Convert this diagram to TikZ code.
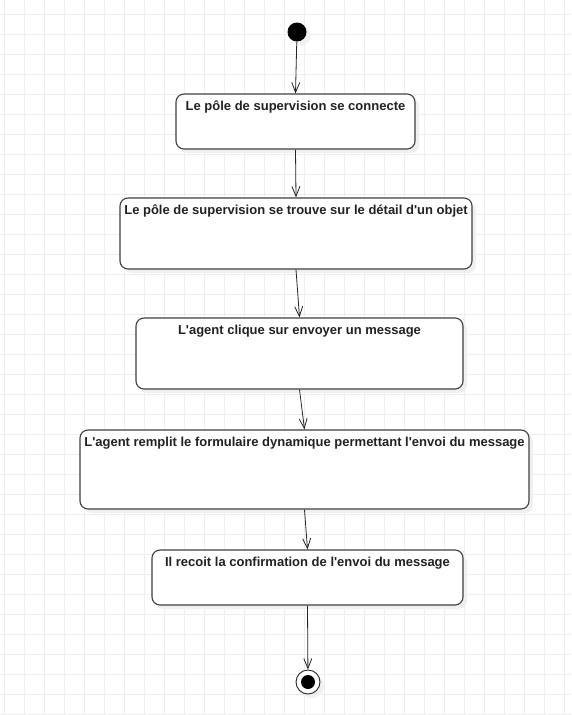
\documentclass[tikz,border=0pt]{standalone}
\usepackage{fontspec}
\setmainfont{Liberation Sans}[Ligatures=TeXOff]
\usetikzlibrary{arrows.meta,shadows}
\definecolor{gridc}{HTML}{EEEEEE}
\definecolor{shadc}{HTML}{F0F0F0}
\definecolor{txtc}{HTML}{222222}
\tikzset{
  actbox/.style={draw=black!75, line width=1.1pt, fill=white, rounded corners=8pt,
    general shadow={fill=shadc, shadow xshift=4pt, shadow yshift=-4pt},
    inner sep=0pt},
  boxtext/.style={font=\bfseries\fontsize{13}{15}\selectfont, text=txtc, anchor=north, inner sep=0pt},
  flow/.style={draw=black!85, line width=0.8pt, -{Straight Barb[length=10pt,width=8pt,line width=0.8pt]}},
}
\begin{document}
\begin{tikzpicture}[x=1pt,y=-1pt]
\useasboundingbox (0,0) rectangle (571,715);
\fill[white] (0,0) rectangle (571,715);
\foreach \gx in {4,24,...,564} \draw[gridc, line width=1pt] (\gx,0) -- (\gx,715);
\foreach \gy in {14,34,...,714} \draw[gridc, line width=1pt] (0,\gy) -- (571,\gy);

\node[circle, fill=black, minimum size=19pt, inner sep=0pt,
  general shadow={fill=shadc, shadow xshift=4pt, shadow yshift=-4pt}] (start) at (297,32) {};

\node[actbox, minimum width=239pt, minimum height=55pt] (b1) at (295.5,121.5) {};
\node[boxtext] (t1) at ([yshift=-7.5pt]b1.north) {Le pôle de supervision se connecte};

\node[actbox, minimum width=352pt, minimum height=71pt] (b2) at (296,233.5) {};
\node[boxtext] (t2) at ([yshift=-7.5pt]b2.north) {Le pôle de supervision se trouve sur le détail d'un objet};

\node[actbox, minimum width=327pt, minimum height=71pt] (b3) at (299.5,353.5) {};
\node[boxtext] (t3) at ([yshift=-7.5pt]b3.north) {L'agent clique sur envoyer un message};

\node[actbox, minimum width=449pt, minimum height=79pt] (b4) at (304.5,469.5) {};
\node[boxtext] (t4) at ([yshift=-7.5pt]b4.north) {L'agent remplit le formulaire dynamique permettant l'envoi du message};

\node[actbox, minimum width=311pt, minimum height=55pt] (b5) at (307.5,577.5) {};
\node[boxtext] (t5) at ([yshift=-7.5pt]b5.north) {Il recoit la confirmation de l'envoi du message};

\node[circle, draw=black!85, line width=0.9pt, fill=white, minimum size=24pt, inner sep=0pt,
  general shadow={fill=shadc, shadow xshift=4pt, shadow yshift=-4pt}] (end) at (308,682) {};
\node[circle, fill=black, minimum size=14pt, inner sep=0pt] (endin) at (end.center) {};

\draw[flow] (start) -- (b1.north);
\draw[flow] (b1.south) -- (b2.north);
\draw[flow] (b2.south) -- (b3.north);
\draw[flow] (b3.south) -- (b4.north);
\draw[flow] (b4.south) -- (b5.north);
\draw[flow] (b5.south) -- (end);
\end{tikzpicture}
\end{document}
